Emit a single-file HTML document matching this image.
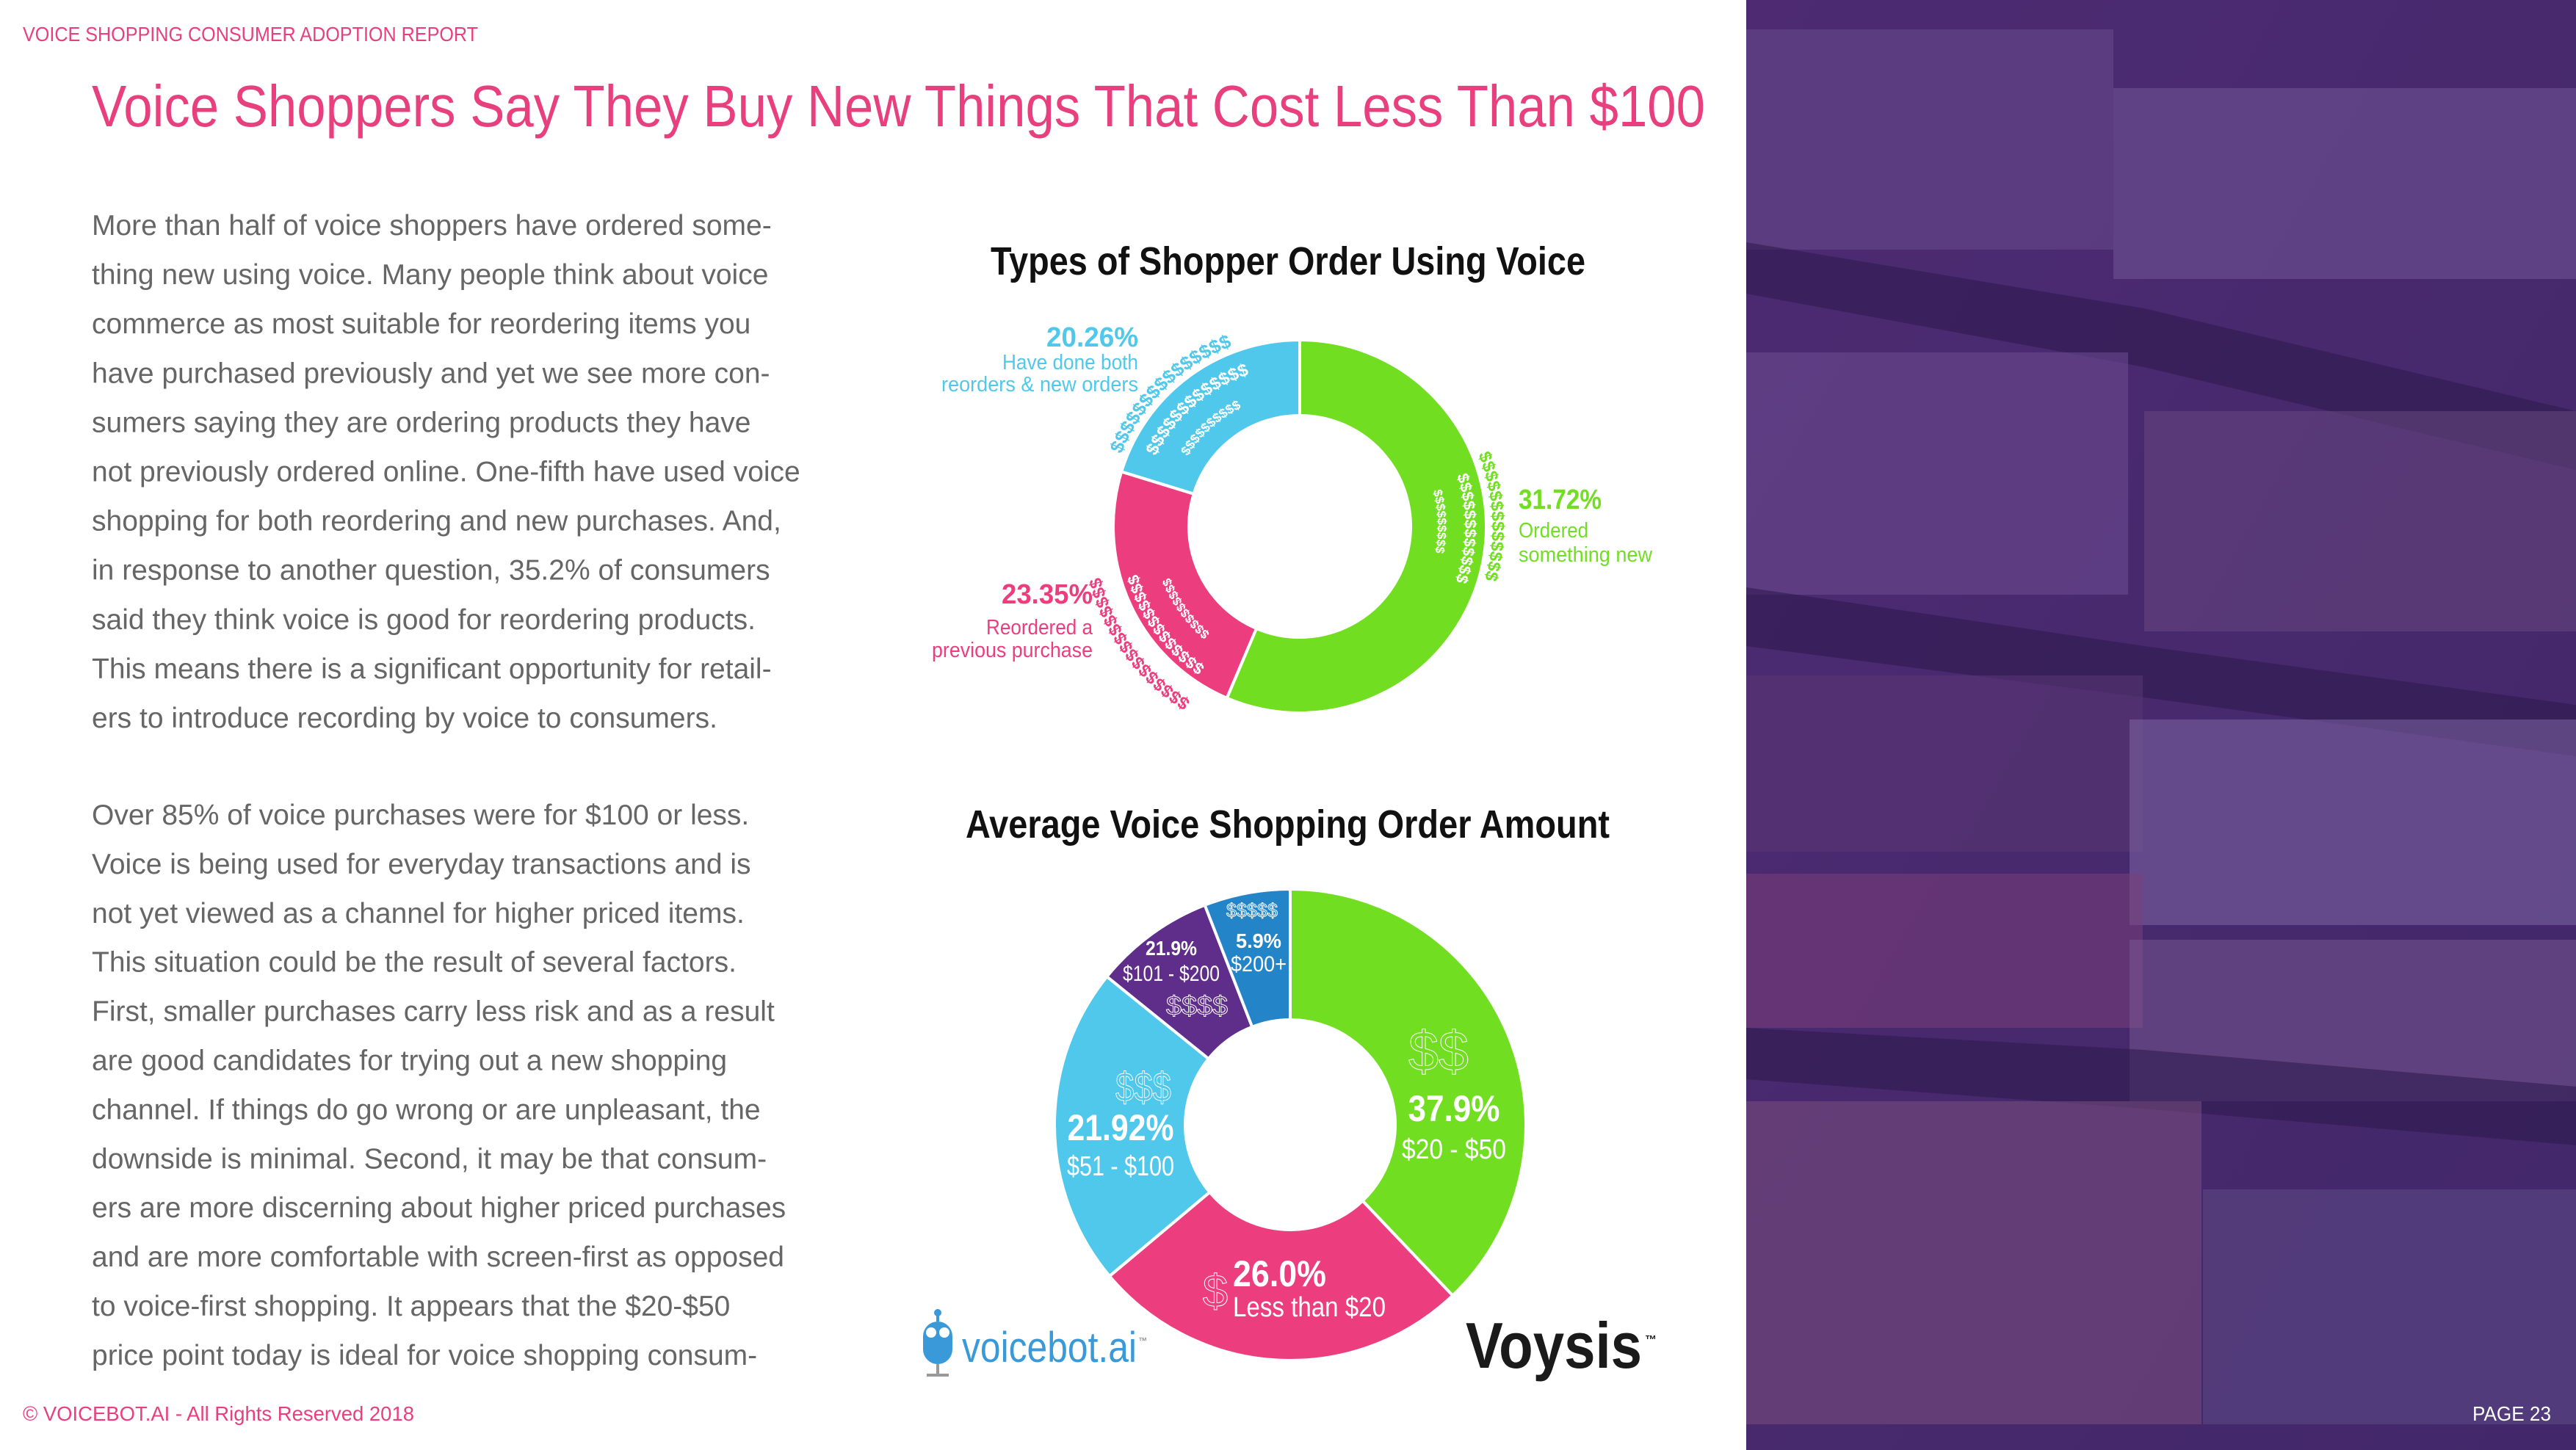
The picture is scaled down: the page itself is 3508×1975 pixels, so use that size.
<!DOCTYPE html>
<html><head><meta charset="utf-8"><style>
html,body{margin:0;padding:0;background:#fff;}
svg{display:block;}
text{font-family:"Liberation Sans",sans-serif;}
</style></head><body>
<svg id="page" width="3508" height="1975" viewBox="0 0 3508 1975" xmlns="http://www.w3.org/2000/svg">
<defs>
<linearGradient id="photoGrad" x1="0" y1="0" x2="1" y2="1">
<stop offset="0" stop-color="#4d2a72"/><stop offset="1" stop-color="#42286a"/>
</linearGradient>
</defs>
<rect x="0" y="0" width="3508" height="1975" fill="#ffffff"/>
<g id="photo">
<rect x="2378" y="0" width="1130" height="1975" fill="url(#photoGrad)"/>
<rect x="2378" y="40" width="500" height="300" fill="#6a4a8e" opacity="0.55"/>
<rect x="2878" y="120" width="630" height="260" fill="#7a5fa0" opacity="0.45"/>
<polygon points="2378,330 2920,420 3508,560 3508,640 2920,500 2378,400" fill="#2e1a4e" opacity="0.6"/>
<rect x="2378" y="480" width="520" height="330" fill="#6d4d92" opacity="0.55"/>
<rect x="2920" y="560" width="588" height="300" fill="#6a4a80" opacity="0.5"/>
<polygon points="2378,800 2920,880 3508,960 3508,1030 2920,950 2378,880" fill="#2e1a4e" opacity="0.6"/>
<rect x="2378" y="920" width="540" height="240" fill="#5a3672" opacity="0.55"/>
<rect x="2900" y="980" width="608" height="280" fill="#8a73b0" opacity="0.45"/>
<rect x="2378" y="1190" width="540" height="210" fill="#7a3e7a" opacity="0.55"/>
<rect x="2900" y="1280" width="608" height="220" fill="#7a5a94" opacity="0.5"/>
<polygon points="2378,1400 2920,1430 3508,1480 3508,1560 2920,1510 2378,1470" fill="#2e1a4e" opacity="0.6"/>
<rect x="2378" y="1500" width="620" height="440" fill="#7a4e7e" opacity="0.55"/>
<rect x="3000" y="1620" width="508" height="320" fill="#5e4a86" opacity="0.55"/>
</g>
<text x="31" y="56" font-size="28" fill="#e8407e" textLength="620" lengthAdjust="spacingAndGlyphs">VOICE SHOPPING CONSUMER ADOPTION REPORT</text>
<text x="125" y="172" font-size="80" fill="#e8407e" textLength="2197" lengthAdjust="spacingAndGlyphs">Voice Shoppers Say They Buy New Things That Cost Less Than $100</text>
<g id="body" font-size="39" fill="#666666"></g>
<text x="31" y="1935" font-size="28" fill="#e8407e" textLength="533" lengthAdjust="spacingAndGlyphs">© VOICEBOT.AI - All Rights Reserved 2018</text>
<text x="3367" y="1935" font-size="28" fill="#ffffff" textLength="107" lengthAdjust="spacingAndGlyphs">PAGE 23</text>

<text x="1349" y="374" font-size="54" font-weight="bold" fill="#111" textLength="810" lengthAdjust="spacingAndGlyphs">Types of Shopper Order Using Voice</text>
<g id="chart1"></g>
<text x="1315" y="1141" font-size="54" font-weight="bold" fill="#111" textLength="877" lengthAdjust="spacingAndGlyphs">Average Voice Shopping Order Amount</text>
<g id="chart2"></g>

<g>
<line x1="1277" y1="1790" x2="1277" y2="1800" stroke="#3a9ad9" stroke-width="4"/>
<circle cx="1277" cy="1788" r="5" fill="#3a9ad9"/>
<rect x="1257" y="1800" width="40" height="58" rx="20" fill="#3a9ad9"/>
<circle cx="1268" cy="1815" r="7" fill="#fff"/><circle cx="1286" cy="1815" r="7" fill="#fff"/>
<line x1="1277" y1="1858" x2="1277" y2="1872" stroke="#999" stroke-width="4"/>
<line x1="1262" y1="1873" x2="1292" y2="1873" stroke="#999" stroke-width="4"/>
<text x="1310" y="1855" font-size="58" fill="#3a9ad9" textLength="238" lengthAdjust="spacingAndGlyphs">voicebot.ai</text>
<text x="1550" y="1830" font-size="12" fill="#777">™</text>
</g>
<text x="1996" y="1863" font-size="88" font-weight="bold" fill="#1a1a1a" textLength="240" lengthAdjust="spacingAndGlyphs">Voysis</text>
<text x="2240" y="1830" font-size="16" font-weight="bold" fill="#1a1a1a">™</text>
</svg>
<script>
// ---------- Chart 1 data ----------
const c1Categories = ["Ordered something new", "Reordered a previous purchase", "Have done both reorders & new orders"];
const c1SliceValues = [56.39, 23.35, 20.26];
const c1Labels = ["31.72%", "23.35%", "20.26%"];
const c1Colors = ["#72de22", "#ec3e7e", "#4fc8ec"];
// ---------- Chart 2 data ----------
const c2Categories = ["$20 - $50", "Less than $20", "$51 - $100", "$101 - $200", "$200+"];
const c2SliceValues = [37.9, 26.0, 21.92, 8.28, 5.9];
const c2Labels = ["37.9%", "26.0%", "21.92%", "21.9%", "5.9%"];
const c2Colors = ["#72de22", "#ec3e7e", "#4fc8ec", "#5f2d8a", "#2384c8"];

const bodyLines = [
"More than half of voice shoppers have ordered some-",
"thing new using voice. Many people think about voice",
"commerce as most suitable for reordering items you",
"have purchased previously and yet we see more con-",
"sumers saying they are ordering products they have",
"not previously ordered online. One-fifth have used voice",
"shopping for both reordering and new purchases. And,",
"in response to another question, 35.2% of consumers",
"said they think voice is good for reordering products.",
"This means there is a significant opportunity for retail-",
"ers to introduce recording by voice to consumers.",
"",
"Over 85% of voice purchases were for $100 or less.",
"Voice is being used for everyday transactions and is",
"not yet viewed as a channel for higher priced items.",
"This situation could be the result of several factors.",
"First, smaller purchases carry less risk and as a result",
"are good candidates for trying out a new shopping",
"channel. If things do go wrong or are unpleasant, the",
"downside is minimal. Second, it may be that consum-",
"ers are more discerning about higher priced purchases",
"and are more comfortable with screen-first as opposed",
"to voice-first shopping. It appears that the $20-$50",
"price point today is ideal for voice shopping consum-"
];
const NS = "http://www.w3.org/2000/svg";
function mk(tag, attrs, parent){const e=document.createElementNS(NS,tag);for(const k in attrs)e.setAttribute(k,attrs[k]);parent.appendChild(e);return e;}

const body=document.getElementById('body');
bodyLines.forEach((s,i)=>{
  if(!s) return;
  const y = i<11 ? 320+i*67.1 : 1123+(i-12)*66.9;
  const t=mk('text',{x:125,y:y},body);
  
  
  t.textContent=s;
});

function pt(cx,cy,r,a){const rad=(a-90)*Math.PI/180;return [cx+r*Math.cos(rad),cy+r*Math.sin(rad)];}
function arcPath(cx,cy,r0,r1,a0,a1){
  const large=(a1-a0)>180?1:0;
  const p0=pt(cx,cy,r1,a0),p1=pt(cx,cy,r1,a1),p2=pt(cx,cy,r0,a1),p3=pt(cx,cy,r0,a0);
  return `M${p0[0]},${p0[1]}A${r1},${r1} 0 ${large} 1 ${p1[0]},${p1[1]}L${p2[0]},${p2[1]}A${r0},${r0} 0 ${large} 0 ${p3[0]},${p3[1]}Z`;
}
function donut(g,cx,cy,r0,r1,vals,colors){
  const total=vals.reduce((a,b)=>a+b,0);let a=0;const angs=[];
  vals.forEach((v,i)=>{
    const a1=a+v/total*360;
    const p=mk('path',{d:arcPath(cx,cy,r0,r1,a,a1),fill:colors[i],stroke:'#fff','stroke-width':4},g);
    
    
    angs.push([a,a1]);a=a1;
  });
  return angs;
}
function label(g,x,y,s,size,fill,anchor,weight,name,len){
  const t=mk('text',{x:x,y:y,'font-size':size,fill:fill,'text-anchor':anchor||'start','font-weight':weight||'normal'},g);
  if(len){t.setAttribute('textLength',len);t.setAttribute('lengthAdjust','spacingAndGlyphs');}
  
  
  t.textContent=s;return t;
}
let pid=0;
function dollarArc(g,cx,cy,r,a0,a1,n,size,fill){
  const p0=pt(cx,cy,r,a0),p1=pt(cx,cy,r,a1);const id='dp'+(pid++);
  mk('path',{id:id,d:`M${p0[0]},${p0[1]}A${r},${r} 0 0 1 ${p1[0]},${p1[1]}`,fill:'none'},g);
  const t=mk('text',{'font-size':size,fill:fill,'font-weight':'bold'},g);
  
  
  const tp=mk('textPath',{href:'#'+id},t);tp.textContent='$'.repeat(n);
}

// Chart 1
const g1=document.getElementById('chart1');
const cx1=1770,cy1=717;
donut(g1,cx1,cy1,151,254,c1SliceValues,c1Colors);
dollarArc(g1,cx1,cy1,262,292,356,15,26,c1Colors[2]);
dollarArc(g1,cx1,cy1,218,296,356,13,24,'#fff');
dollarArc(g1,cx1,cy1,180,302,352,10,18,'#fff');
dollarArc(g1,cx1,cy1,262,68,110,13,24,c1Colors[0]);
dollarArc(g1,cx1,cy1,225,72,108,13,22,'#fff');
dollarArc(g1,cx1,cy1,188,75,104,9,17,'#fff');
dollarArc(g1,cx1,cy1,280,212,262,16,24,c1Colors[1]);
dollarArc(g1,cx1,cy1,230,214,262,13,22,'#fff');
dollarArc(g1,cx1,cy1,190,220,258,10,17,'#fff');
label(g1,1550,472,c1Labels[2],38,c1Colors[2],'end','bold','label-both',125);
label(g1,1550,503,'Have done both',29,c1Colors[2],'end','normal','slice-label',185);
label(g1,1550,533,'reorders & new orders',29,c1Colors[2],'end','normal','slice-label',268);
label(g1,2068,693,c1Labels[0],38,c1Colors[0],'start','bold','label-new',113);
label(g1,2068,732,'Ordered',29,c1Colors[0],'start','normal','slice-label',95);
label(g1,2068,765,'something new',29,c1Colors[0],'start','normal','slice-label',182);
label(g1,1488,822,c1Labels[1],38,c1Colors[1],'end','bold','label-reorder',124);
label(g1,1488,864,'Reordered a',29,c1Colors[1],'end','normal','slice-label',145);
label(g1,1488,895,'previous purchase',29,c1Colors[1],'end','normal','slice-label',219);

// Chart 2
const g2=document.getElementById('chart2');
const cx2=1757,cy2=1532;
donut(g2,cx2,cy2,143,321,c2SliceValues,c2Colors);
const W='#fff';
label(g2,1959,1458,'$$',76,'none','middle','normal','dollar-icon',82).setAttribute('stroke',W);
label(g2,1980,1527,c2Labels[0],50,W,'middle','bold','slice-label',125);
label(g2,1980,1578,c2Categories[0],38,W,'middle','normal','slice-label',142);
label(g2,1557,1500,'$$$',56,'none','middle','normal','dollar-icon',76).setAttribute('stroke',W);
label(g2,1526,1553,c2Labels[2],50,W,'middle','bold','slice-label',145);
label(g2,1526,1601,c2Categories[2],38,W,'middle','normal','slice-label',146);
label(g2,1655,1780,'$',62,'none','middle','normal','dollar-icon').setAttribute('stroke',W);
label(g2,1679,1752,c2Labels[1],50,W,'start','bold','slice-label',127);
label(g2,1679,1793,c2Categories[1],38,W,'start','normal','slice-label',208);
label(g2,1595,1301,c2Labels[3],28,W,'middle','bold','slice-label',70);
label(g2,1595,1336,c2Categories[3],30,W,'middle','normal','slice-label',132);
label(g2,1630,1382,'$$$$',36,'none','middle','normal','dollar-icon',84).setAttribute('stroke',W);
label(g2,1705,1249,'$$$$$',26,'none','middle','normal','dollar-icon',70).setAttribute('stroke',W);
label(g2,1714,1291,c2Labels[4],28,W,'middle','bold','slice-label',62);
label(g2,1714,1323,c2Categories[4],30,W,'middle','normal','slice-label',76);
</script>
</body></html>
